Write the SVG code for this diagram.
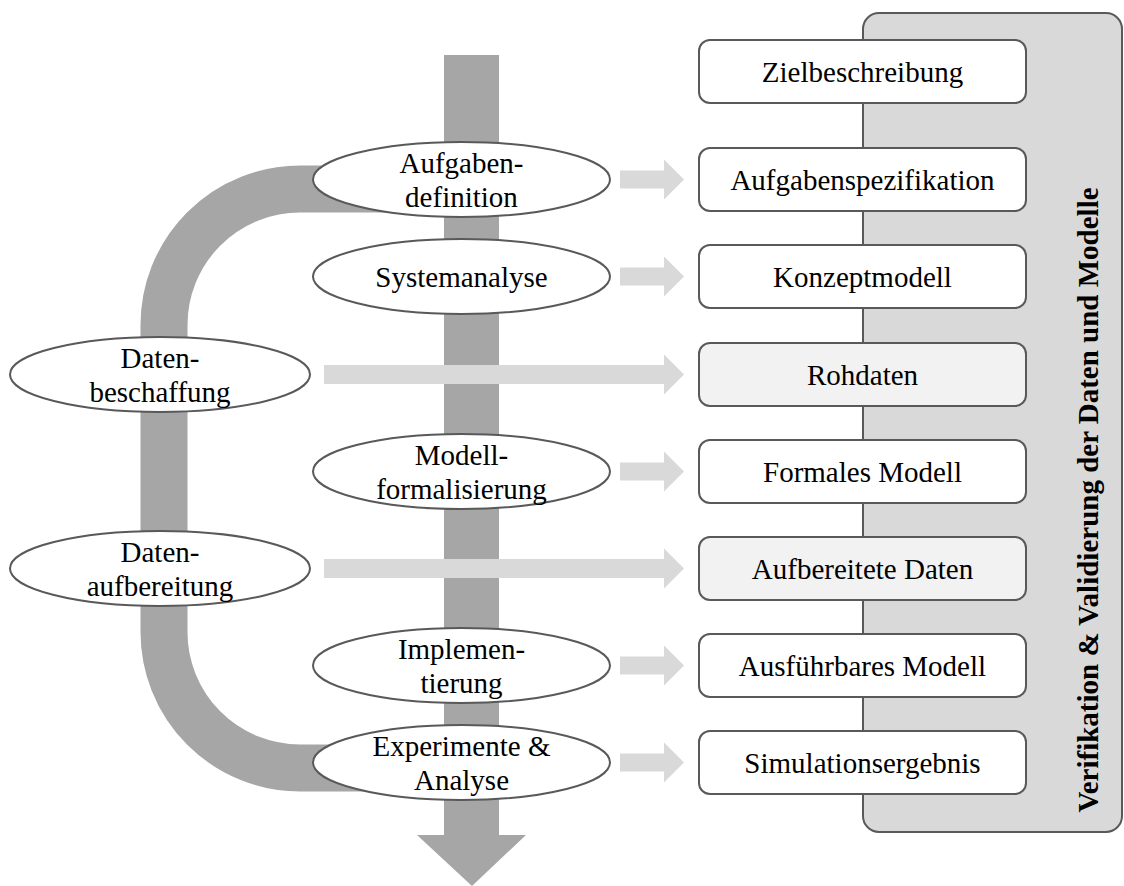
<svg xmlns="http://www.w3.org/2000/svg" width="1124" height="886" viewBox="0 0 1124 886">
  <style>
    .lbl { font-family: "Liberation Serif", "Times New Roman", serif; font-size: 29px; fill: #000; text-anchor: middle; }
    .vt { font-family: "Liberation Serif", "Times New Roman", serif; font-size: 29px; font-weight: bold; fill: #000; text-anchor: middle; }
    .proc { fill: #fff; stroke: #595959; stroke-width: 2; }
    .box { fill: #fff; stroke: #595959; stroke-width: 2; }
    .data { fill: #f2f2f2; stroke: #595959; stroke-width: 2; }
    .flow { fill: #a6a6a6; }
    .band { fill: none; stroke: #a6a6a6; stroke-width: 47; }
    .out { fill: #d9d9d9; }
  </style>

  <!-- data loop band and main process arrow -->
  <g id="data-loop">
    <path class="band" d="M 472 189 H 300 A 136 136 0 0 0 164 325 V 632 A 136 136 0 0 0 300 768 H 472"/>
  </g>
  <g id="main-flow">
    <rect class="flow" x="444" y="55" width="55" height="781"/>
    <polygon class="flow" points="417,835 526,835 472,886"/>
  </g>

  <!-- verification & validation panel -->
  <g id="vv-panel">
    <rect x="863" y="13" width="259" height="819" rx="16" ry="16" fill="#d9d9d9" stroke="#595959" stroke-width="2"/>
    <text class="vt" transform="translate(1098,500) rotate(-90)">Verifikation &amp; Validierung der Daten und Modelle</text>
  </g>

  <!-- result arrows -->
  <g id="connectors">
    <polygon class="out" points="620,170.5 664,170.5 664,159.5 684,179.5 664,199.5 664,188.5 620,188.5"/>
    <polygon class="out" points="620,267.5 664,267.5 664,256.5 684,276.5 664,296.5 664,285.5 620,285.5"/>
    <polygon class="out" points="324,365 664,365 664,354.5 684,374.5 664,394.5 664,384 324,384"/>
    <polygon class="out" points="620,462.5 664,462.5 664,451.5 684,471.5 664,491.5 664,480.5 620,480.5"/>
    <polygon class="out" points="324,559 664,559 664,548.5 684,568.5 664,588.5 664,578 324,578"/>
    <polygon class="out" points="620,656.5 664,656.5 664,645.5 684,665.5 664,685.5 664,674.5 620,674.5"/>
    <polygon class="out" points="620,753.5 664,753.5 664,742.5 684,762.5 664,782.5 664,771.5 620,771.5"/>
  </g>

  <!-- process steps -->
  <g id="p-aufgabendefinition">
    <ellipse class="proc" cx="461.5" cy="179.5" rx="148.5" ry="37.5"/>
    <text class="lbl" x="461.5" y="173">Aufgaben-</text>
    <text class="lbl" x="461.5" y="207">definition</text>
  </g>
  <g id="p-systemanalyse">
    <ellipse class="proc" cx="461.5" cy="276.5" rx="148.5" ry="37.5"/>
    <text class="lbl" x="461.5" y="287">Systemanalyse</text>
  </g>
  <g id="p-datenbeschaffung">
    <ellipse class="proc" cx="160" cy="374.5" rx="150" ry="37.5"/>
    <text class="lbl" x="160" y="368">Daten-</text>
    <text class="lbl" x="160" y="402">beschaffung</text>
  </g>
  <g id="p-modellformalisierung">
    <ellipse class="proc" cx="461.5" cy="471.5" rx="148.5" ry="37.5"/>
    <text class="lbl" x="461.5" y="465">Modell-</text>
    <text class="lbl" x="461.5" y="499">formalisierung</text>
  </g>
  <g id="p-datenaufbereitung">
    <ellipse class="proc" cx="160" cy="568.5" rx="150" ry="37.5"/>
    <text class="lbl" x="160" y="562">Daten-</text>
    <text class="lbl" x="160" y="596">aufbereitung</text>
  </g>
  <g id="p-implementierung">
    <ellipse class="proc" cx="461.5" cy="665.5" rx="148.5" ry="37.5"/>
    <text class="lbl" x="461.5" y="659">Implemen-</text>
    <text class="lbl" x="461.5" y="693">tierung</text>
  </g>
  <g id="p-experimente">
    <ellipse class="proc" cx="461.5" cy="762.5" rx="148.5" ry="37.5"/>
    <text class="lbl" x="461.5" y="756">Experimente &amp;</text>
    <text class="lbl" x="461.5" y="790">Analyse</text>
  </g>

  <!-- results -->
  <g id="r-zielbeschreibung">
    <rect class="box" x="699" y="40" width="327" height="63" rx="11"/>
    <text class="lbl" x="862.5" y="82">Zielbeschreibung</text>
  </g>
  <g id="r-aufgabenspezifikation">
    <rect class="box" x="699" y="148" width="327" height="63" rx="11"/>
    <text class="lbl" x="862.5" y="190">Aufgabenspezifikation</text>
  </g>
  <g id="r-konzeptmodell">
    <rect class="box" x="699" y="245" width="327" height="63" rx="11"/>
    <text class="lbl" x="862.5" y="287">Konzeptmodell</text>
  </g>
  <g id="r-rohdaten">
    <rect class="data" x="699" y="343" width="327" height="63" rx="11"/>
    <text class="lbl" x="862.5" y="385">Rohdaten</text>
  </g>
  <g id="r-formales-modell">
    <rect class="box" x="699" y="440" width="327" height="63" rx="11"/>
    <text class="lbl" x="862.5" y="482">Formales Modell</text>
  </g>
  <g id="r-aufbereitete-daten">
    <rect class="data" x="699" y="537" width="327" height="63" rx="11"/>
    <text class="lbl" x="862.5" y="579">Aufbereitete Daten</text>
  </g>
  <g id="r-ausfuehrbares-modell">
    <rect class="box" x="699" y="634" width="327" height="63" rx="11"/>
    <text class="lbl" x="862.5" y="676">Ausführbares Modell</text>
  </g>
  <g id="r-simulationsergebnis">
    <rect class="box" x="699" y="731" width="327" height="63" rx="11"/>
    <text class="lbl" x="862.5" y="773">Simulationsergebnis</text>
  </g>
</svg>
